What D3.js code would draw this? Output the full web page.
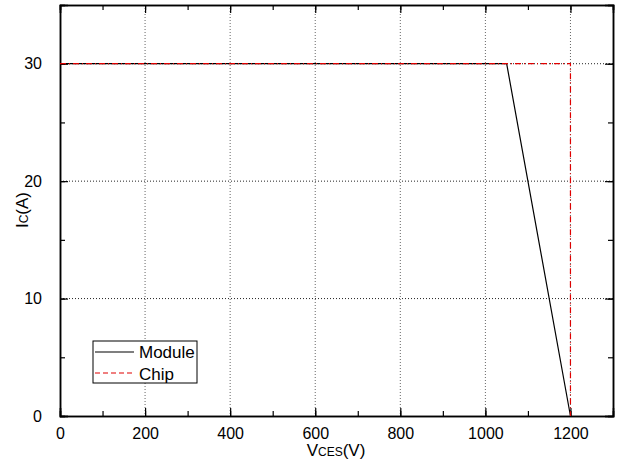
<!DOCTYPE html>
<html><head><meta charset="utf-8">
<script src="https://cdn.jsdelivr.net/npm/d3@7"></script>
<style>body{margin:0;background:#fff;} svg{display:block;font-family:Arial,"Liberation Sans",sans-serif;}</style>
</head><body>
<script>
const xTicks = [0,200,400,600,800,1000,1200];
const yTicks = [0,10,20,30];
const moduleV = [0,1050,1200];
const moduleI = [30,30,0];
const chipV = [0,1200,1200];
const chipI = [30,30,0];
const seriesNames = ["Module","Chip"];

const W=618,H=464;
const m={l:60,t:5,r:613,b:416};
const svg=d3.select("body").append("svg").attr("width",W).attr("height",H);
const x=d3.scaleLinear().domain([0,1300]).range([m.l,m.r]);
const y=d3.scaleLinear().domain([0,35]).range([m.b,m.t]);

// grid
const g=svg.append("g");
xTicks.filter(v=>v>0).forEach(v=>{
  g.append("line").attr("x1",x(v)).attr("x2",x(v)).attr("y1",m.t).attr("y2",m.b)
   .attr("stroke","#666").attr("stroke-width",1).attr("stroke-dasharray","1,2");
});
yTicks.filter(v=>v>0).forEach(v=>{
  g.append("line").attr("x1",m.l).attr("x2",m.r).attr("y1",y(v)).attr("y2",y(v))
   .attr("stroke","#222").attr("stroke-width",1).attr("stroke-dasharray","1,2");
});

// axes with inward ticks
const minorX=d3.range(0,1301,100), minorY=d3.range(0,35.1,5);
function addAxis(axis,tr){ return svg.append("g").attr("transform",tr).call(axis); }
addAxis(d3.axisBottom(x).tickValues(minorX).tickSize(-5).tickFormat(""),`translate(0,${m.b})`);
addAxis(d3.axisBottom(x).tickValues(xTicks).tickSize(-8).tickPadding(12).tickFormat(d3.format("d")),`translate(0,${m.b})`);
addAxis(d3.axisTop(x).tickValues(minorX).tickSize(-5).tickFormat(""),`translate(0,${m.t})`);
addAxis(d3.axisTop(x).tickValues(xTicks).tickSize(-8).tickFormat(""),`translate(0,${m.t})`);
addAxis(d3.axisLeft(y).tickValues(minorY).tickSize(-5).tickFormat(""),`translate(${m.l},0)`);
addAxis(d3.axisLeft(y).tickValues(yTicks).tickSize(-8).tickPadding(18).tickFormat(d3.format("d")),`translate(${m.l},0)`);
addAxis(d3.axisRight(y).tickValues(minorY).tickSize(-5).tickFormat(""),`translate(${m.r},0)`);
addAxis(d3.axisRight(y).tickValues(yTicks).tickSize(-8).tickFormat(""),`translate(${m.r},0)`);
svg.selectAll(".domain").attr("stroke","#000").attr("stroke-width",1.5);
svg.selectAll(".tick line").attr("stroke","#000").attr("stroke-width",1.2);
svg.selectAll(".tick text").attr("font-size",16).attr("fill","#000").attr("font-family","Arial,'Liberation Sans',sans-serif");

// lines
const line=d3.line().x(d=>x(d[0])).y(d=>y(d[1]));
svg.append("path").datum(moduleV.map((v,i)=>[v,moduleI[i]])).attr("d",line)
  .attr("fill","none").attr("stroke","#000").attr("stroke-width",1.2);
svg.append("path").datum(chipV.map((v,i)=>[v,chipI[i]])).attr("d",line)
  .attr("fill","none").attr("stroke","#e00000").attr("stroke-width",1.2).attr("stroke-dasharray","6,3,1,3");

// legend
const lg=svg.append("g");
lg.append("rect").attr("x",93).attr("y",341).attr("width",104).attr("height",42)
  .attr("fill","#fff").attr("stroke","#000").attr("stroke-width",1);
lg.append("line").attr("x1",95).attr("x2",134).attr("y1",352).attr("y2",352).attr("stroke","#000").attr("stroke-width",1.2);
lg.append("line").attr("x1",95).attr("x2",134).attr("y1",373).attr("y2",373).attr("stroke","#e00000").attr("stroke-width",1.2).attr("stroke-dasharray","5,3");
lg.append("text").attr("x",139).attr("y",358).attr("font-size",17).text(seriesNames[0]);
lg.append("text").attr("x",139).attr("y",380).attr("font-size",17).text(seriesNames[1]);

// axis titles
const yt=svg.append("text").attr("transform","translate(28,210) rotate(-90)").attr("text-anchor","middle").attr("font-size",17);
yt.append("tspan").text("I");
yt.append("tspan").attr("font-size",12).text("C");
yt.append("tspan").text("(A)");
const xtl=svg.append("text").attr("x",336).attr("y",456).attr("text-anchor","middle").attr("font-size",17);
xtl.append("tspan").text("V");
xtl.append("tspan").attr("font-size",12).text("CES");
xtl.append("tspan").text("(V)");
</script>
</body></html>
